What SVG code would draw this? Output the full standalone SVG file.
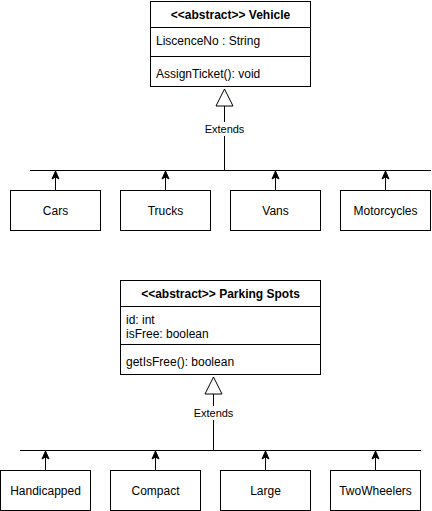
<svg xmlns="http://www.w3.org/2000/svg" width="432" height="511" viewBox="0 0 432 511">
<style>
.box{fill:#fff;stroke:#000;stroke-width:1}
.ln{fill:none;stroke:#000;stroke-width:1}
.t{font-family:"Liberation Sans",Arial,sans-serif;font-size:12px;fill:#000}
.c{text-anchor:middle}
.b{font-weight:bold}
.lbl{font-family:"Liberation Sans",Arial,sans-serif;font-size:11px;fill:#000;text-anchor:middle}
</style>
<defs>
<marker id="arr" markerUnits="userSpaceOnUse" markerWidth="10" markerHeight="10" viewBox="0 0 10 10" refX="9" refY="5" orient="auto">
<path d="M1,1.5 L9,5 L1,8.5 L3,5 Z" fill="#000" stroke="#000" stroke-width="1"/>
</marker>
<marker id="tri" markerUnits="userSpaceOnUse" markerWidth="20" markerHeight="20" viewBox="0 0 20 20" refX="18" refY="10" orient="auto">
<path d="M18,10 L1,1.5 L1,18.5 Z" fill="#fff" stroke="#000" stroke-width="1"/>
</marker>
</defs>

<g id="connectors">
<path class="ln" d="M224.5,170.5 L224.5,89" marker-end="url(#tri)"/>
<rect x="203" y="122" width="43" height="14" fill="#fff"/>
<text class="lbl" x="224.5" y="133">Extends</text>
<path class="ln" d="M30,170.5 L431,170.5"/>
<path class="ln" d="M55.5,190 L55.5,171" marker-end="url(#arr)"/>
<path class="ln" d="M165.5,190 L165.5,171" marker-end="url(#arr)"/>
<path class="ln" d="M275.5,190 L275.5,171" marker-end="url(#arr)"/>
<path class="ln" d="M385.5,190 L385.5,171" marker-end="url(#arr)"/>

<path class="ln" d="M213.5,450.5 L213.5,377" marker-end="url(#tri)"/>
<rect x="192" y="406" width="43" height="14" fill="#fff"/>
<text class="lbl" x="213.5" y="417">Extends</text>
<path class="ln" d="M20,450.5 L421,450.5"/>
<path class="ln" d="M45.5,470 L45.5,451" marker-end="url(#arr)"/>
<path class="ln" d="M155.5,470 L155.5,451" marker-end="url(#arr)"/>
<path class="ln" d="M265.5,470 L265.5,451" marker-end="url(#arr)"/>
<path class="ln" d="M375.5,470 L375.5,451" marker-end="url(#arr)"/>
</g>

<g id="vehicle">
<rect class="box" x="150.5" y="1.5" width="160" height="85"/>
<path class="ln" d="M150.5,27.5 L310.5,27.5 M150.5,56.5 L310.5,56.5"/>
<text class="t c b" x="230.5" y="18.5">&lt;&lt;abstract&gt;&gt; Vehicle</text>
<text class="t" x="156" y="44.5">LiscenceNo : String</text>
<text class="t" x="156" y="77.5">AssignTicket(): void</text>
</g>

<g id="cars"><rect class="box" x="10.5" y="190.5" width="90" height="40"/><text class="t c" x="55.5" y="214.5">Cars</text></g>
<g id="trucks"><rect class="box" x="120.5" y="190.5" width="90" height="40"/><text class="t c" x="165.5" y="214.5">Trucks</text></g>
<g id="vans"><rect class="box" x="230.5" y="190.5" width="90" height="40"/><text class="t c" x="275.5" y="214.5">Vans</text></g>
<g id="motorcycles"><rect class="box" x="340.5" y="190.5" width="90" height="40"/><text class="t c" x="385.5" y="214.5">Motorcycles</text></g>

<g id="parkingspots">
<rect class="box" x="120.5" y="280.5" width="200" height="94"/>
<path class="ln" d="M120.5,306.5 L320.5,306.5 M120.5,344.5 L320.5,344.5"/>
<text class="t c b" x="220.5" y="297.5">&lt;&lt;abstract&gt;&gt; Parking Spots</text>
<text class="t" x="126" y="323.5">id: int</text>
<text class="t" x="126" y="337.5">isFree: boolean</text>
<text class="t" x="126" y="365.5">getIsFree(): boolean</text>
</g>

<g id="handicapped"><rect class="box" x="0.5" y="470.5" width="90" height="40"/><text class="t c" x="45.5" y="494.5">Handicapped</text></g>
<g id="compact"><rect class="box" x="110.5" y="470.5" width="90" height="40"/><text class="t c" x="155.5" y="494.5">Compact</text></g>
<g id="large"><rect class="box" x="220.5" y="470.5" width="90" height="40"/><text class="t c" x="265.5" y="494.5">Large</text></g>
<g id="twowheelers"><rect class="box" x="330.5" y="470.5" width="90" height="40"/><text class="t c" x="375.5" y="494.5">TwoWheelers</text></g>
</svg>
